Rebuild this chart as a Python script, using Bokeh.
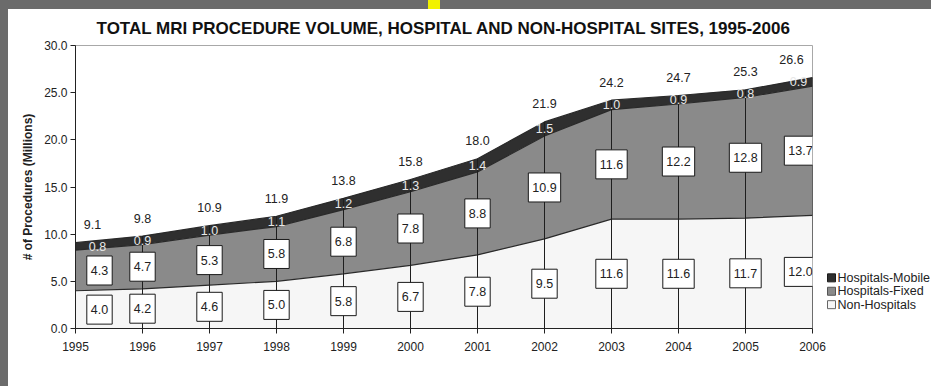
import numpy as np
from bokeh.plotting import figure
from bokeh.layouts import column, row
from bokeh.models import (ColumnDataSource, Spacer, FixedTicker, PrintfTickFormatter, Range1d)
from bokeh.core.properties import value
from bokeh.embed import file_html
from bokeh.resources import INLINE

# MRI procedure volume (millions) by site type
years = [1995, 1996, 1997, 1998, 1999, 2000, 2001, 2002, 2003, 2004, 2005, 2006]
non_hospitals = [4.0, 4.2, 4.6, 5.0, 5.8, 6.7, 7.8, 9.5, 11.6, 11.6, 11.7, 12.0]
hospitals_fixed = [4.3, 4.7, 5.3, 5.8, 6.8, 7.8, 8.8, 10.9, 11.6, 12.2, 12.8, 13.7]
hospitals_mobile = [0.8, 0.9, 1.0, 1.1, 1.2, 1.3, 1.4, 1.5, 1.0, 0.9, 0.8, 0.9]
totals = [9.1, 9.8, 10.9, 11.9, 13.8, 15.8, 18.0, 21.9, 24.2, 24.7, 25.3, 26.6]
y_ticks = [0, 5, 10, 15, 20, 25, 30]
series_names = ["Hospitals-Mobile", "Hospitals-Fixed", "Non-Hospitals"]

FONT = "Liberation Sans"
C_MOBILE = "#2f2f2f"
C_FIXED = "#8a8a8a"
C_NON = "#f6f6f6"
INK = "#222222"
SLIDE = "#6b6b6b"

# page geometry (pixels)
STRIP_LEFT, STRIP_TOP = 8, 9
BORDER_TOP, BORDER_BOTTOM = 34, 58
PLOT_H = 386 - STRIP_TOP

non = np.array(non_hospitals)
fixed = np.array(hospitals_fixed)
mobile = np.array(hospitals_mobile)
top_fixed = non + fixed
top_mobile = top_fixed + mobile


def edge_shift(first, last):
    # nudge the end labels inward so they stay inside the plot frame
    s = np.zeros(len(years))
    s[0], s[-1] = first, last
    return s


src = ColumnDataSource(dict(
    year=years, non=non, fixed=fixed, mobile=mobile,
    top_non=non, top_fixed=top_fixed, top_mobile=top_mobile, total=totals,
    non_mid=non / 2, fixed_mid=non + fixed / 2, mobile_mid=top_fixed + mobile / 2,
    non_txt=[f"{v:.1f}" for v in non_hospitals],
    fixed_txt=[f"{v:.1f}" for v in hospitals_fixed],
    mobile_txt=[f"{v:.1f}" for v in hospitals_mobile],
    total_txt=[f"{v:.1f}" for v in totals],
    dx_box=edge_shift(24, -12), dx_mobile=edge_shift(22, -14), dx_total=edge_shift(17, -21),
))

p = figure(width=818, height=PLOT_H, output_backend="svg", toolbar_location=None,
           x_range=Range1d(years[0], years[-1]), y_range=Range1d(y_ticks[0], y_ticks[-1]),
           min_border_left=67, min_border_right=14,
           min_border_top=BORDER_TOP, min_border_bottom=BORDER_BOTTOM,
           title="TOTAL MRI PROCEDURE VOLUME, HOSPITAL AND NON-HOSPITAL SITES, 1995-2006")
p.background_fill_color = "white"
p.border_fill_color = "white"
p.outline_line_color = "#a8a8a8"
p.xgrid.visible = False
p.ygrid.visible = False

p.title.align = "center"
p.title.text_font = FONT
p.title.text_font_size = "17px"
p.title.text_font_style = "bold"
p.title.text_color = "#111111"
p.title.standoff = 15

# stacked areas
p.varea_stack(["non", "fixed", "mobile"], x="year", color=[C_NON, C_FIXED, C_MOBILE], source=src)
for col in ["top_non", "top_fixed", "top_mobile"]:
    p.line("year", col, source=src, line_color="#2a2a2a", line_width=1.2)

# drop lines
p.segment(x0="year", y0=0, x1="year", y1="total", source=src, line_color="#1e1e1e", line_width=1)

# value labels
box_style = dict(text_align="center", text_baseline="middle", text_font=value(FONT),
                 text_font_size="12.5px", text_color=INK,
                 background_fill_color="white", border_line_color="#1a1a1a", border_line_width=1,
                 padding=dict(left=4, right=4, top=10, bottom=10))
p.text(x="year", y="non_mid", text="non_txt", x_offset="dx_box", source=src, **box_style)
p.text(x="year", y="fixed_mid", text="fixed_txt", x_offset="dx_box", source=src, **box_style)
p.text(x="year", y="mobile_mid", text="mobile_txt", x_offset="dx_mobile", source=src,
       text_align="center", text_baseline="middle", text_font=value(FONT),
       text_font_size="12.5px", text_color="#e8e8e8")
p.text(x="year", y="total", text="total_txt", x_offset="dx_total", y_offset=-18, source=src,
       text_align="center", text_baseline="middle", text_font=value(FONT),
       text_font_size="12.5px", text_color=INK)

# axes
p.xaxis.ticker = FixedTicker(ticks=years)
p.yaxis.ticker = FixedTicker(ticks=y_ticks)
p.yaxis.formatter = PrintfTickFormatter(format="%.1f")
for ax in (p.xaxis[0], p.yaxis[0]):
    ax.axis_line_color = INK
    ax.major_tick_line_color = INK
    ax.major_tick_out = 5
    ax.major_tick_in = 0
    ax.minor_tick_line_color = None
    ax.major_label_text_font = FONT
    ax.major_label_text_font_size = "12px"
    ax.major_label_text_color = INK
p.xaxis.major_label_standoff = 8
p.yaxis.major_label_standoff = 3
p.yaxis.axis_label = "# of Procedures (Millions)"
p.yaxis.axis_label_text_font = FONT
p.yaxis.axis_label_text_font_size = "12px"
p.yaxis.axis_label_text_font_style = "bold"
p.yaxis.axis_label_text_color = INK
p.yaxis.axis_label_standoff = 6

# legend panel to the right of the chart; its ranges are in page pixels (y top-down)
LW = 931 - STRIP_LEFT - 818
lx0 = STRIP_LEFT + 818
fy_top = STRIP_TOP + BORDER_TOP
fy_bot = STRIP_TOP + PLOT_H - BORDER_BOTTOM
lg = figure(width=LW, height=PLOT_H, output_backend="svg", toolbar_location=None,
            x_range=Range1d(lx0, lx0 + LW), y_range=Range1d(fy_bot, fy_top),
            x_axis_location=None, y_axis_location=None,
            min_border_left=0, min_border_right=0,
            min_border_top=BORDER_TOP, min_border_bottom=BORDER_BOTTOM)
lg.outline_line_color = None
lg.xgrid.visible = False
lg.ygrid.visible = False
lg.background_fill_color = "white"
lg.border_fill_color = "white"
row_y = [277 + 13.5 * i for i in range(len(series_names))]
leg_src = ColumnDataSource(dict(
    name=series_names, y=row_y,
    fill=[C_MOBILE, C_FIXED, C_NON], edge=["#1a1a1a", "#555555", "#666666"],
))
lg.rect(x=lx0 + 5, y="y", width=8, height=8, width_units="screen", height_units="screen",
        fill_color="fill", line_color="edge", source=leg_src)
lg.text(x=lx0 + 11, y="y", text="name", source=leg_src, text_baseline="middle",
        text_font=value(FONT), text_font_size="12.5px", text_color=INK)

# slide frame: dark strips along the top and left edges with a small yellow marker
top_strip = row(Spacer(width=428, height=STRIP_TOP, styles={"background-color": SLIDE}),
                Spacer(width=12, height=STRIP_TOP, styles={"background-color": "#f2f200"}),
                Spacer(width=491, height=STRIP_TOP, styles={"background-color": SLIDE}))
body = row(Spacer(width=STRIP_LEFT, height=PLOT_H, styles={"background-color": SLIDE}), p, lg)
page = column(top_strip, body)

open("out.html", "w").write(file_html(page, INLINE))
